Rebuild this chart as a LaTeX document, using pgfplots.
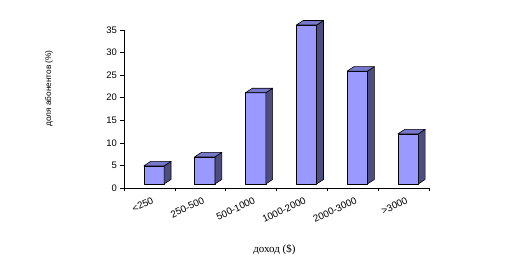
\documentclass[border=0pt]{standalone}
\usepackage{fontspec}
\setmainfont{Liberation Serif}
\newfontfamily\sansf{Liberation Sans}
\usepackage{pgfplots}
\usepackage{pgfplotstable}
\pgfplotsset{compat=1.18}
\definecolor{barfront}{HTML}{9999FF}
\definecolor{barside}{HTML}{4D4D80}
\definecolor{bartop}{HTML}{7777CC}
\pgfplotstableread{
x v
0 4
1 6
2 20.2
3 35.2
4 25
5 11.1
}\data
\begin{document}
\begin{tikzpicture}
\useasboundingbox (0,0) rectangle (509bp,280bp);
\begin{axis}[
  at={(124bp,92bp)}, anchor=south west,
  width=305bp, height=158bp, scale only axis,
  xmin=-0.5, xmax=5.5, ymin=0, ymax=35,
  axis x line=bottom, axis y line=left,
  axis line style={-, black},
  clip=false,
  xtick={0,...,5},
  xticklabels={{<250},{250-500},{500-1000},{1000-2000},{2000-3000},{>3000}},
  minor xtick={-0.5,0.5,...,5.5},
  major x tick style={draw=none},
  minor tick length=3.5bp,
  major tick length=3.5bp,
  tick align=outside,
  tick style={black, line width=0.6pt},
  ytick={0,5,...,35},
  /pgf/number format/assume math mode=true,
  xticklabel style={font=\sansf\fontsize{9.8}{10}\selectfont, rotate=25, anchor=north east, xshift=3bp, yshift=-2bp},
  yticklabel style={font=\sansf\fontsize{9.5}{10}\selectfont, xshift=0bp},
  xlabel={доход (\$)},
  xlabel style={font=\fontsize{11}{12}\selectfont, at={(axis description cs:0.493,-0.39)}, anchor=center},
  ylabel={доля абонентов (\%)},
  ylabel style={font=\sansf\fontsize{8.3}{9}\selectfont, at={(axis description cs:-0.246,0.63)}, anchor=center, rotate=0},
]
\pgfplotsforeachungrouped \i in {0,1,2,3,4,5}{%
  \pgfplotstablegetelem{\i}{v}\of\data
  \let\barv\pgfplotsretval
  \pgfmathsetmacro\xa{\i-0.11}
  \pgfmathsetmacro\xb{\i+0.29}
  \pgfmathsetmacro\xc{\i+0.29+0.135}
  \pgfmathsetmacro\xd{\i-0.11+0.135}
  \pgfmathsetmacro\ya{0.9}
  \pgfmathsetmacro\yb{0.9+\barv}
  \pgfmathsetmacro\yc{0.9+1.0}
  \pgfmathsetmacro\yd{0.9+\barv+1.0}
  \edef\temp{%
    \noexpand\addplot[fill=barfront, draw=black, line width=0.6pt, line join=round] coordinates {(\xa,\ya) (\xb,\ya) (\xb,\yb) (\xa,\yb)} -- cycle;
    \noexpand\addplot[fill=barside, draw=black, line width=0.6pt, line join=round] coordinates {(\xb,\ya) (\xc,\yc) (\xc,\yd) (\xb,\yb)} -- cycle;
    \noexpand\addplot[fill=bartop, draw=black, line width=0.6pt, line join=round] coordinates {(\xa,\yb) (\xb,\yb) (\xc,\yd) (\xd,\yd)} -- cycle;
  }%
  \temp
}
\end{axis}
\end{tikzpicture}
\end{document}
